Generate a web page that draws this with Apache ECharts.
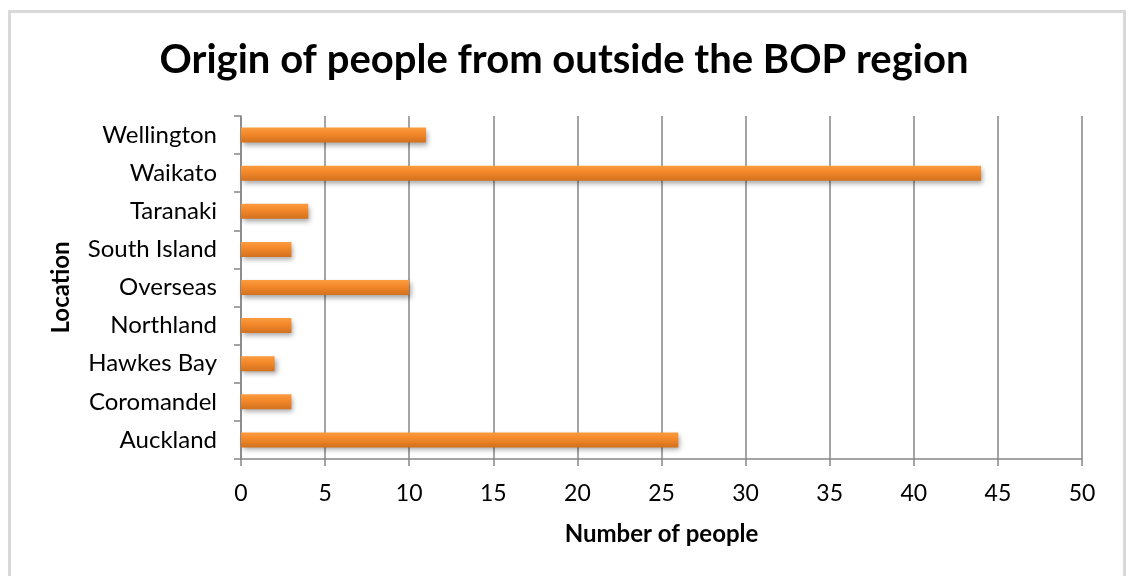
<!DOCTYPE html>
<html>
<head>
<meta charset="utf-8">
<script src="https://cdn.jsdelivr.net/npm/echarts@6/dist/echarts.min.js"></script>
<style>
  html, body { margin: 0; padding: 0; background: #fff; }
  #wrap { position: relative; width: 1128px; height: 576px; overflow: hidden; }
  #chart { position: absolute; left: 0; top: 0; width: 1128px; height: 576px; }
  #frame {
    position: absolute; left: 8px; top: 10px; width: 1112px; height: 600px;
    border: 3px solid #d9d9d9; box-sizing: content-box; pointer-events: none;
  }
</style>
</head>
<body>
<div id="wrap">
  <div id="chart"></div>
  <div id="frame"></div>
</div>
<script>
// Where visitors from outside the Bay of Plenty came from
const locations = ['Auckland', 'Coromandel', 'Hawkes Bay', 'Northland', 'Overseas',
                   'South Island', 'Taranaki', 'Waikato', 'Wellington'];
const peopleCount = [26, 3, 2, 3, 10, 3, 4, 44, 11];
const xTicks = [0, 5, 10, 15, 20, 25, 30, 35, 40, 45, 50];

const FONT = 'Lato, "Open Sans", sans-serif';
const chart = echarts.init(document.getElementById('chart'), null, { renderer: 'canvas' });

chart.setOption({
  animation: false,
  backgroundColor: '#ffffff',
  title: {
    text: 'Origin of people from outside the BOP region',
    left: 'center',
    top: 35,
    textStyle: { fontFamily: FONT, fontWeight: 'bold', fontSize: 40, color: '#000' }
  },
  grid: { left: 241, right: 46, top: 116, bottom: 117, containLabel: false },
  xAxis: {
    type: 'value',
    min: xTicks[0],
    max: xTicks[xTicks.length - 1],
    interval: xTicks[1] - xTicks[0],
    name: 'Number of people',
    nameLocation: 'middle',
    nameGap: 63,
    nameTextStyle: { fontFamily: FONT, fontWeight: 'bold', fontSize: 24, color: '#000' },
    axisLine: { show: true, lineStyle: { color: '#868686', width: 1.5 } },
    axisTick: { show: true, length: 7, lineStyle: { color: '#868686', width: 1.5 } },
    axisLabel: { margin: 23, fontFamily: FONT, fontSize: 23, color: '#000' },
    splitLine: { show: true, lineStyle: { color: '#868686', width: 1.5 } }
  },
  yAxis: {
    type: 'category',
    data: locations,
    name: 'Location',
    nameLocation: 'middle',
    nameGap: 168,
    nameRotate: 90,
    nameTextStyle: { fontFamily: FONT, fontWeight: 'bold', fontSize: 24, color: '#000' },
    axisLine: { show: true, lineStyle: { color: '#868686', width: 1.5 } },
    axisTick: { show: true, length: 7, lineStyle: { color: '#868686', width: 1.5 } },
    axisLabel: { margin: 24, fontFamily: FONT, fontSize: 24, color: '#000' },
    splitLine: { show: false }
  },
  series: [{
    type: 'bar',
    data: peopleCount,
    barWidth: 15,
    itemStyle: {
      color: new echarts.graphic.LinearGradient(0, 0, 0, 1, [
        { offset: 0, color: '#fc9c3f' },
        { offset: 0.45, color: '#f28729' },
        { offset: 1, color: '#d2711e' }
      ]),
      shadowColor: 'rgba(0,0,0,0.35)',
      shadowBlur: 5,
      shadowOffsetX: 2,
      shadowOffsetY: 3
    }
  }]
});
</script>
</body>
</html>
